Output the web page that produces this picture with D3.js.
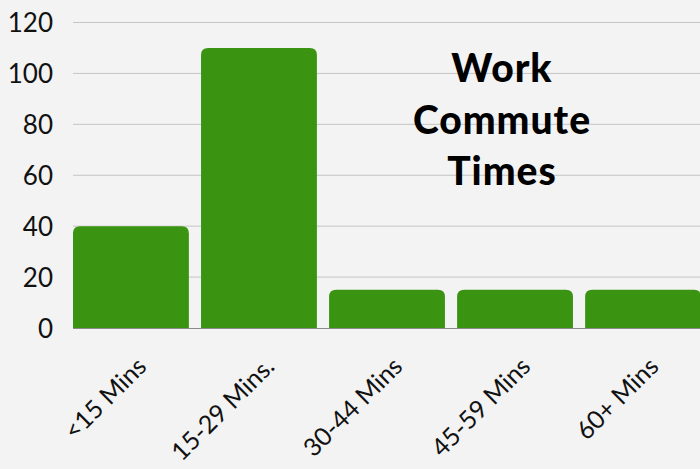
<!DOCTYPE html>
<html><head><meta charset="utf-8">
<script src="https://cdn.jsdelivr.net/npm/d3@7"></script>
<style>
html,body{margin:0;padding:0;background:#f3f3f3;}
svg{display:block;}
</style></head>
<body>
<svg id="chart" width="700" height="469"></svg>
<script>
const categories = ["<15 Mins", "15-29 Mins.", "30-44 Mins", "45-59 Mins", "60+ Mins"];
const values = [40, 110, 15, 15, 15];
const yTicks = [0, 20, 40, 60, 80, 100, 120];
const titleLines = ["Work", "Commute", "Times"];

const svg = d3.select("#chart");
const W = 700, H = 469;
svg.append("rect").attr("width", W).attr("height", H).attr("fill", "#f3f3f3");

const x = d3.scaleBand().domain(categories).range([73, 701]).paddingInner(0.095).paddingOuter(0);
const y = d3.scaleLinear().domain([0, 120]).range([328, 22.5]);

// gridlines
svg.append("g").selectAll("line").data(yTicks.filter(d => d > 0)).join("line")
  .attr("x1", 73).attr("x2", 700)
  .attr("y1", d => y(d)).attr("y2", d => y(d))
  .attr("stroke", "#c4c4c4").attr("stroke-width", 1);

// baseline
svg.append("line").attr("x1", 73).attr("x2", 700).attr("y1", y(0) + 0.5).attr("y2", y(0) + 0.5)
  .attr("stroke", "#8a8a8a").attr("stroke-width", 1);

// y labels
const yAxis = d3.axisLeft(y).tickValues(yTicks).tickSize(0).tickPadding(0);
const gy = svg.append("g").attr("transform", "translate(53,0)").call(yAxis);
gy.select(".domain").remove();
gy.selectAll("text").attr("font-family", "Lato, sans-serif").attr("font-size", 26)
  .attr("fill", "#111").attr("dy", "0.36em");

// bars with rounded top corners
const r = 7;
function barPath(x0, y0, w, h) {
  const rr = Math.min(r, h, w / 2);
  return `M${x0},${y0 + h}V${y0 + rr}Q${x0},${y0} ${x0 + rr},${y0}H${x0 + w - rr}Q${x0 + w},${y0} ${x0 + w},${y0 + rr}V${y0 + h}Z`;
}
svg.append("g").selectAll("path").data(categories).join("path")
  .attr("d", (d, i) => barPath(x(d), y(values[i]), x.bandwidth(), y(0) - y(values[i])))
  .attr("fill", "#3a9412");

// x labels
const xAxis = d3.axisBottom(x).tickSize(0).tickPadding(0);
const gx = svg.append("g").attr("transform", `translate(0,${y(0)})`).call(xAxis);
gx.select(".domain").remove();
gx.selectAll(".tick text")
  .attr("font-family", "Lato, sans-serif").attr("font-size", 25).attr("fill", "#111")
  .attr("text-anchor", "end").attr("y", 0).attr("dy", 0)
  .attr("transform", "translate(17,40) rotate(-45)");

// title
svg.append("g").selectAll("text").data(titleLines).join("text")
  .attr("x", 502).attr("y", (d, i) => 82 + i * 51.5)
  .attr("text-anchor", "middle")
  .attr("font-family", "Lato, sans-serif").attr("font-weight", 900).attr("font-size", 39)
  .attr("letter-spacing", 1)
  .attr("fill", "#000")
  .text(d => d);
</script>
</body></html>
